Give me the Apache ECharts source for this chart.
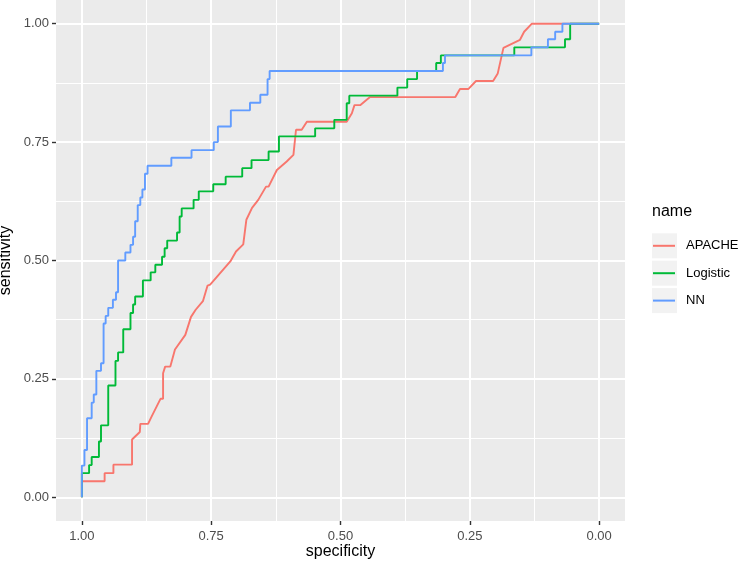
<!DOCTYPE html>
<html><head><meta charset="utf-8">
<script src="https://cdn.jsdelivr.net/npm/echarts@6/dist/echarts.min.js"></script>
<style>html,body{margin:0;padding:0;background:#fff}#c{width:742px;height:564px}</style>
</head><body><div id="c"></div>
<script>
const seriesNames = ['APACHE', 'Logistic', 'NN'];
const seriesColors = ['#F8766D', '#00BA38', '#619CFF'];

// [specificity, sensitivity]
const apachePoints = [[1,0],[1,0.034],[0.956,0.034],[0.956,0.051],[0.939,0.051],[0.939,0.069],[0.903,0.069],[0.903,0.122],[0.888,0.138],[0.887,0.155],[0.872,0.155],[0.865,0.171],[0.848,0.208],[0.843,0.208],[0.843,0.262],[0.839,0.276],[0.829,0.276],[0.82,0.312],[0.8,0.343],[0.789,0.381],[0.78,0.396],[0.766,0.414],[0.757,0.447],[0.752,0.449],[0.713,0.498],[0.702,0.519],[0.688,0.534],[0.682,0.586],[0.671,0.611],[0.659,0.628],[0.644,0.656],[0.639,0.656],[0.623,0.691],[0.604,0.709],[0.591,0.723],[0.586,0.776],[0.575,0.776],[0.565,0.793],[0.488,0.793],[0.478,0.811],[0.473,0.828],[0.462,0.828],[0.443,0.845],[0.278,0.845],[0.269,0.862],[0.253,0.862],[0.238,0.879],[0.205,0.879],[0.196,0.895],[0.185,0.949],[0.153,0.966],[0.145,0.983],[0.13,1],[0,1]];

const logisticPoints = [[1,0],[1,0.051],[0.986,0.051],[0.986,0.068],[0.981,0.068],[0.981,0.085],[0.967,0.085],[0.967,0.118],[0.963,0.118],[0.963,0.152],[0.949,0.152],[0.949,0.236],[0.935,0.236],[0.935,0.288],[0.93,0.288],[0.93,0.306],[0.92,0.306],[0.92,0.355],[0.906,0.355],[0.906,0.389],[0.901,0.389],[0.901,0.407],[0.897,0.407],[0.897,0.424],[0.882,0.424],[0.882,0.458],[0.867,0.458],[0.867,0.475],[0.858,0.475],[0.858,0.491],[0.845,0.491],[0.845,0.508],[0.84,0.508],[0.84,0.526],[0.835,0.526],[0.835,0.542],[0.816,0.542],[0.816,0.559],[0.811,0.559],[0.811,0.593],[0.807,0.593],[0.807,0.61],[0.784,0.61],[0.784,0.628],[0.774,0.628],[0.774,0.646],[0.746,0.646],[0.746,0.661],[0.722,0.661],[0.722,0.677],[0.69,0.677],[0.69,0.695],[0.672,0.695],[0.672,0.712],[0.639,0.712],[0.639,0.73],[0.619,0.73],[0.619,0.762],[0.549,0.762],[0.549,0.779],[0.512,0.779],[0.512,0.797],[0.488,0.797],[0.488,0.832],[0.483,0.832],[0.483,0.848],[0.39,0.848],[0.39,0.865],[0.371,0.865],[0.371,0.883],[0.352,0.883],[0.352,0.9],[0.315,0.9],[0.315,0.917],[0.306,0.917],[0.306,0.933],[0.164,0.933],[0.164,0.95],[0.066,0.95],[0.066,0.967],[0.056,0.967],[0.056,1],[0,1]];

const nnPoints = [[1,0],[1,0.067],[0.995,0.067],[0.995,0.1],[0.99,0.1],[0.99,0.167],[0.981,0.167],[0.981,0.2],[0.977,0.2],[0.977,0.217],[0.972,0.217],[0.972,0.267],[0.963,0.267],[0.963,0.283],[0.958,0.283],[0.958,0.367],[0.954,0.367],[0.954,0.383],[0.949,0.383],[0.949,0.4],[0.94,0.4],[0.94,0.417],[0.934,0.417],[0.934,0.433],[0.93,0.433],[0.93,0.5],[0.916,0.5],[0.916,0.517],[0.906,0.517],[0.906,0.533],[0.901,0.533],[0.901,0.55],[0.897,0.55],[0.897,0.583],[0.892,0.583],[0.892,0.617],[0.887,0.617],[0.887,0.633],[0.883,0.633],[0.883,0.65],[0.878,0.65],[0.878,0.683],[0.873,0.683],[0.873,0.7],[0.827,0.7],[0.827,0.717],[0.788,0.717],[0.788,0.733],[0.745,0.733],[0.745,0.75],[0.737,0.75],[0.737,0.783],[0.712,0.783],[0.712,0.817],[0.675,0.817],[0.675,0.833],[0.655,0.833],[0.655,0.85],[0.641,0.85],[0.641,0.883],[0.637,0.883],[0.637,0.9],[0.302,0.9],[0.302,0.917],[0.298,0.917],[0.298,0.933],[0.131,0.933],[0.131,0.95],[0.099,0.95],[0.099,0.967],[0.085,0.967],[0.085,0.983],[0.071,0.983],[0.071,1],[0,1]];

const majorTicks = [0, 0.25, 0.5, 0.75, 1];
const minorTicks = [0.125, 0.375, 0.625, 0.875];
const xTitle = 'specificity';
const yTitle = 'sensitivity';
const legendTitle = 'name';

const FONT = '"Liberation Sans", Arial, Helvetica, sans-serif';
const fmt = v => v.toFixed(2);

function majorAxis(extra, labelMargin) {
  return Object.assign({
    type: 'value', min: -0.05, max: 1.05,
    axisLine: { show: false, onZero: false },
    axisTick: { show: true, length: 4, customValues: majorTicks, lineStyle: { color: '#333333', width: 1.4 } },
    axisLabel: { customValues: majorTicks, formatter: fmt, color: '#4D4D4D', fontSize: 13, fontFamily: FONT, margin: labelMargin },
    splitLine: { show: true, lineStyle: { color: '#FFFFFF', width: 2 } },
    nameTextStyle: { color: '#000', fontSize: 16, fontFamily: FONT },
    nameLocation: 'middle'
  }, extra);
}
function minorAxis(extra) {
  return Object.assign({
    type: 'value', min: -0.05, max: 1.05,
    axisLine: { show: false, onZero: false },
    axisTick: { show: false, customValues: minorTicks },
    axisLabel: { show: false, customValues: minorTicks },
    splitLine: { show: true, lineStyle: { color: '#FFFFFF', width: 1 } }
  }, extra);
}

const legendIcon = 'path://M0,0 M0,11.5 L22,11.5 L22,13.5 L0,13.5 Z M22,25';

const dataSets = [apachePoints, logisticPoints, nnPoints];
const chart = echarts.init(document.getElementById('c'), null, { renderer: 'canvas' });
chart.setOption({
  animation: false,
  backgroundColor: '#FFFFFF',
  grid: { left: 56, right: 117, top: 0, bottom: 43, containLabel: false, outerBoundsMode: 'none',
          show: true, backgroundColor: '#EBEBEB', borderWidth: 0 },
  xAxis: [
    minorAxis({ position: 'top', inverse: true }),
    majorAxis({ position: 'bottom', inverse: true, name: xTitle, nameGap: 23, nameMoveOverlap: false }, 9)
  ],
  yAxis: [
    minorAxis({ position: 'right' }),
    majorAxis({ position: 'left', name: yTitle, nameGap: 42, nameRotate: 90, nameMoveOverlap: false }, 7)
  ],
  legend: {
    orient: 'vertical', left: 653, top: 233.3, padding: 0, itemWidth: 22, itemHeight: 25, itemGap: 2.4,
    data: seriesNames.map(n => ({ name: n, icon: legendIcon })),
    itemStyle: { borderWidth: 0 },
    textStyle: { color: '#000', fontSize: 13, fontFamily: FONT, padding: [0, 0, 0, 6] }
  },
  graphic: [
    { type: 'text', left: 652, top: 204, style: { text: legendTitle, fill: '#000', font: '16px ' + FONT } },
    { type: 'rect', left: 652, top: 233.3, z: -1, shape: { width: 25, height: 25 }, style: { fill: '#F2F2F2' } },
    { type: 'rect', left: 652, top: 260.7, z: -1, shape: { width: 25, height: 25 }, style: { fill: '#F2F2F2' } },
    { type: 'rect', left: 652, top: 288.1, z: -1, shape: { width: 25, height: 25 }, style: { fill: '#F2F2F2' } }
  ],
  series: seriesNames.map((n, i) => ({
    name: n, type: 'line', xAxisIndex: 1, yAxisIndex: 1,
    data: dataSets[i], symbol: 'none', showSymbol: false,
    lineStyle: { color: seriesColors[i], width: 1.9 },
    itemStyle: { color: seriesColors[i] },
    z: 2 + i
  }))
});
</script></body></html>
